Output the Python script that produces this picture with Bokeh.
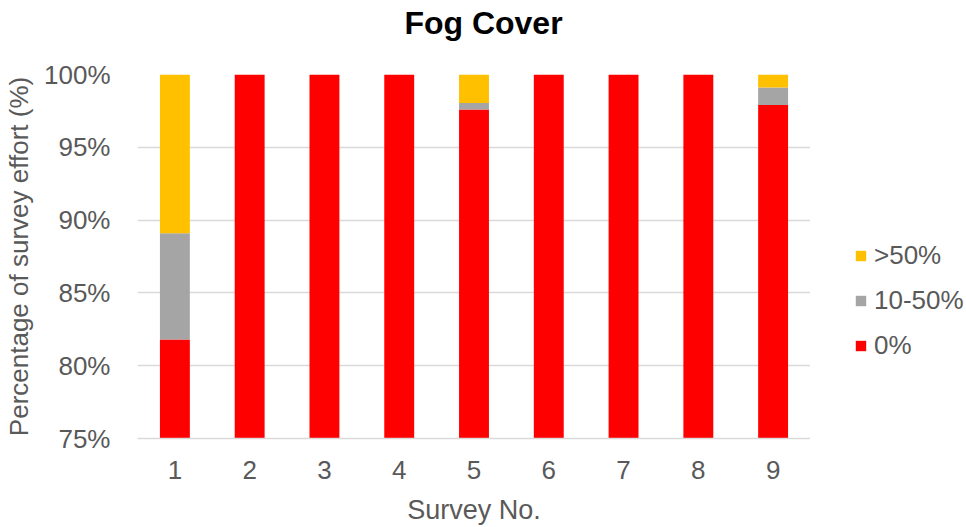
from bokeh.plotting import figure
from bokeh.models import Range1d, FixedTicker, PrintfTickFormatter, Legend, LegendItem
from bokeh.layouts import column, row
from bokeh.embed import file_html
from bokeh.resources import INLINE

surveys = ["1", "2", "3", "4", "5", "6", "7", "8", "9"]
fog_0 = [81.8, 100, 100, 100, 97.6, 100, 100, 100, 97.9]
fog_10_50 = [7.3, 0, 0, 0, 0.45, 0, 0, 0, 1.2]
fog_50 = [10.9, 0, 0, 0, 1.95, 0, 0, 0, 0.9]
y_ticks = [75, 80, 85, 90, 95, 100]
series_keys = ["a", "b", "c"]
series_colors = ["#FF0000", "#A5A5A5", "#FFC000"]
legend_labels = {"c": ">50%", "b": "10-50%", "a": "0%"}

FONT = "Liberation Sans"
GREY = "#595959"

data = dict(x=surveys, a=fog_0, b=fog_10_50, c=fog_50)

# --- title strip ---
pt = figure(width=966, height=54, output_backend="svg", toolbar_location=None,
            min_border=0, x_axis_location=None, y_axis_location=None)
pt.outline_line_color = None
pt.grid.visible = False
pt.title.text = "Fog Cover"
pt.title.align = "center"
pt.title.text_font = FONT
pt.title.text_font_size = "32px"
pt.title.text_font_style = "bold"
pt.title.text_color = "#000000"
pt.title.standoff = 4

# --- main chart ---
p = figure(x_range=surveys, y_range=Range1d(75, 100), width=810, height=473,
           output_backend="svg", toolbar_location=None,
           min_border_left=137, min_border_right=0, min_border_top=20, min_border_bottom=88)

rs = p.vbar_stack(series_keys, x="x", width=0.4, source=data,
                  color=series_colors, line_color=None)

p.outline_line_color = None
p.xgrid.grid_line_color = None
p.ygrid.grid_line_color = "#D9D9D9"
p.ygrid.grid_line_width = 1.5

p.yaxis.ticker = FixedTicker(ticks=y_ticks)
p.yaxis.formatter = PrintfTickFormatter(format="%d%%")
p.yaxis.axis_line_color = None
p.yaxis.major_tick_line_color = None
p.yaxis.minor_tick_line_color = None
p.yaxis.axis_label = "Percentage of survey effort (%)"
p.yaxis.major_label_standoff = 21
p.yaxis.axis_label_standoff = 7

p.xaxis.axis_line_color = "#D9D9D9"
p.xaxis.axis_line_width = 1.5
p.xaxis.major_tick_line_color = None
p.xaxis.minor_tick_line_color = None
p.xaxis.axis_label = "Survey No."
p.xaxis.major_label_standoff = 16
p.xaxis.axis_label_standoff = 13

for ax in (p.xaxis, p.yaxis):
    ax.major_label_text_font = FONT
    ax.major_label_text_font_size = "26px"
    ax.major_label_text_color = GREY
    ax.axis_label_text_font = FONT
    ax.axis_label_text_font_size = "26px"
    ax.axis_label_text_font_style = "normal"
    ax.axis_label_text_color = GREY
p.xaxis.axis_label_text_font_size = "27px"

# --- legend strip ---
pl = figure(x_range=surveys, y_range=Range1d(75, 100), width=156, height=473,
            output_backend="svg", toolbar_location=None, min_border=0,
            x_axis_location=None, y_axis_location=None)
pl.outline_line_color = None
pl.grid.visible = False
rl = pl.vbar_stack(series_keys, x="x", width=0.4, source=data,
                   color=series_colors, line_color=None)
for r in rl:
    r.visible = False

legend = Legend(items=[LegendItem(label=legend_labels[k], renderers=[rl[i]])
                       for i, k in reversed(list(enumerate(series_keys)))],
                location=(44, 77))
legend.border_line_color = None
legend.background_fill_alpha = 0
legend.label_text_font = FONT
legend.label_text_font_size = "26px"
legend.label_text_color = GREY
legend.glyph_width = 13
legend.glyph_height = 13
legend.label_standoff = 7
legend.spacing = 14
legend.padding = 0
legend.margin = 0
pl.add_layout(legend, "center")

layout = column(pt, row(p, pl))
open("out.html", "w").write(file_html(layout, INLINE))
